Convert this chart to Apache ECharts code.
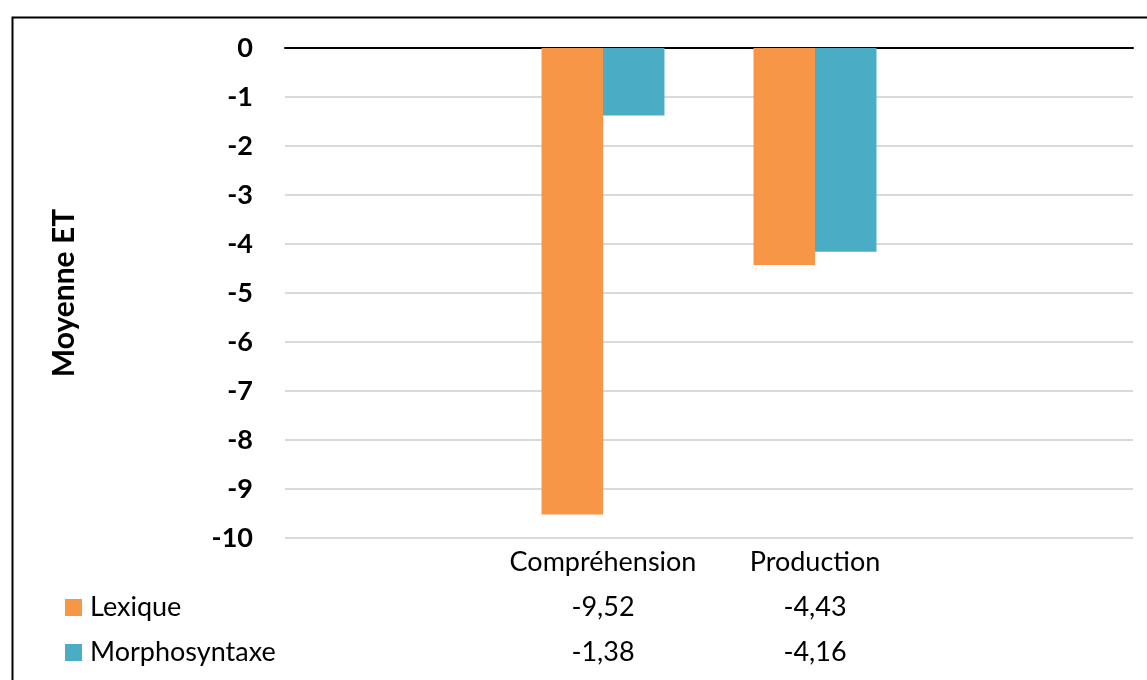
<!DOCTYPE html>
<html>
<head>
<meta charset="utf-8">
<script src="https://cdn.jsdelivr.net/npm/echarts@6/dist/echarts.min.js"></script>
<style>
html,body{margin:0;padding:0;background:#fff;}
#chart{width:1147px;height:680px;}
</style>
</head>
<body>
<div id="chart"></div>
<script>
// Data
const categories = ['', 'Compréhension', 'Production', ''];
const seriesNames = ['Lexique', 'Morphosyntaxe'];
const lexique = [null, -9.52, -4.43, null];
const morphosyntaxe = [null, -1.38, -4.16, null];
const yTicks = { min: -10, max: 0, interval: 1 };
const yAxisName = 'Moyenne ET';
const colors = ['#F79646', '#4BACC6'];

const fmt = v => (v === null || v === undefined) ? '' : v.toFixed(2).replace('.', ',');

const chart = echarts.init(document.getElementById('chart'));
const FONT = 'Lato';
const labelStyle = { fontFamily: FONT, fontSize: 27, color: '#000' };

const tableAxis = (data, offset) => ({
  type: 'category',
  position: 'bottom',
  gridIndex: 0,
  data: data,
  offset: offset,
  axisLine: { show: false },
  axisTick: { show: false },
  splitLine: { show: false },
  axisLabel: Object.assign({ margin: 11, interval: 0 }, labelStyle)
});

chart.setOption({
  animation: false,
  backgroundColor: '#fff',
  color: colors,
  grid: { left: 285, right: 14, top: 48, bottom: 142, containLabel: false },
  legend: {
    orient: 'vertical',
    left: 60,
    top: 589,
    itemWidth: 17,
    itemHeight: 17,
    itemGap: 18,
    icon: 'rect',
    data: seriesNames,
    textStyle: Object.assign({ padding: [0, 0, 0, 3] }, labelStyle)
  },
  xAxis: [
    {
      type: 'category',
      position: 'top',
      data: categories,
      axisLine: { show: true, onZero: false, lineStyle: { color: '#000', width: 2 } },
      axisTick: { show: false },
      axisLabel: { show: false },
      splitLine: { show: false }
    },
    tableAxis(categories, 0),
    tableAxis(lexique.map(fmt), 45),
    tableAxis(morphosyntaxe.map(fmt), 90)
  ],
  yAxis: {
    type: 'value',
    min: yTicks.min,
    max: yTicks.max,
    interval: yTicks.interval,
    name: yAxisName,
    nameLocation: 'middle',
    nameGap: 206,
    nameTextStyle: { fontFamily: FONT, fontSize: 30, fontWeight: 'bold', color: '#000' },
    axisLine: { show: false },
    axisTick: { show: false },
    axisLabel: { fontFamily: FONT, fontSize: 27, fontWeight: 'bold', color: '#000', margin: 32 },
    splitLine: { lineStyle: { color: '#d9d9d9', width: 2 } }
  },
  series: [
    { name: seriesNames[0], type: 'bar', xAxisIndex: 0, data: lexique, barWidth: '29%', barGap: '0%', itemStyle: { color: colors[0] } },
    { name: seriesNames[1], type: 'bar', xAxisIndex: 0, data: morphosyntaxe, barWidth: '29%', barGap: '0%', itemStyle: { color: colors[1] } }
  ],
  graphic: [
    {
      type: 'rect',
      left: 10, top: 15,
      shape: { width: 1200, height: 700 },
      style: { fill: 'none', stroke: '#000', lineWidth: 2 },
      silent: true
    }
  ]
});
</script>
</body>
</html>
